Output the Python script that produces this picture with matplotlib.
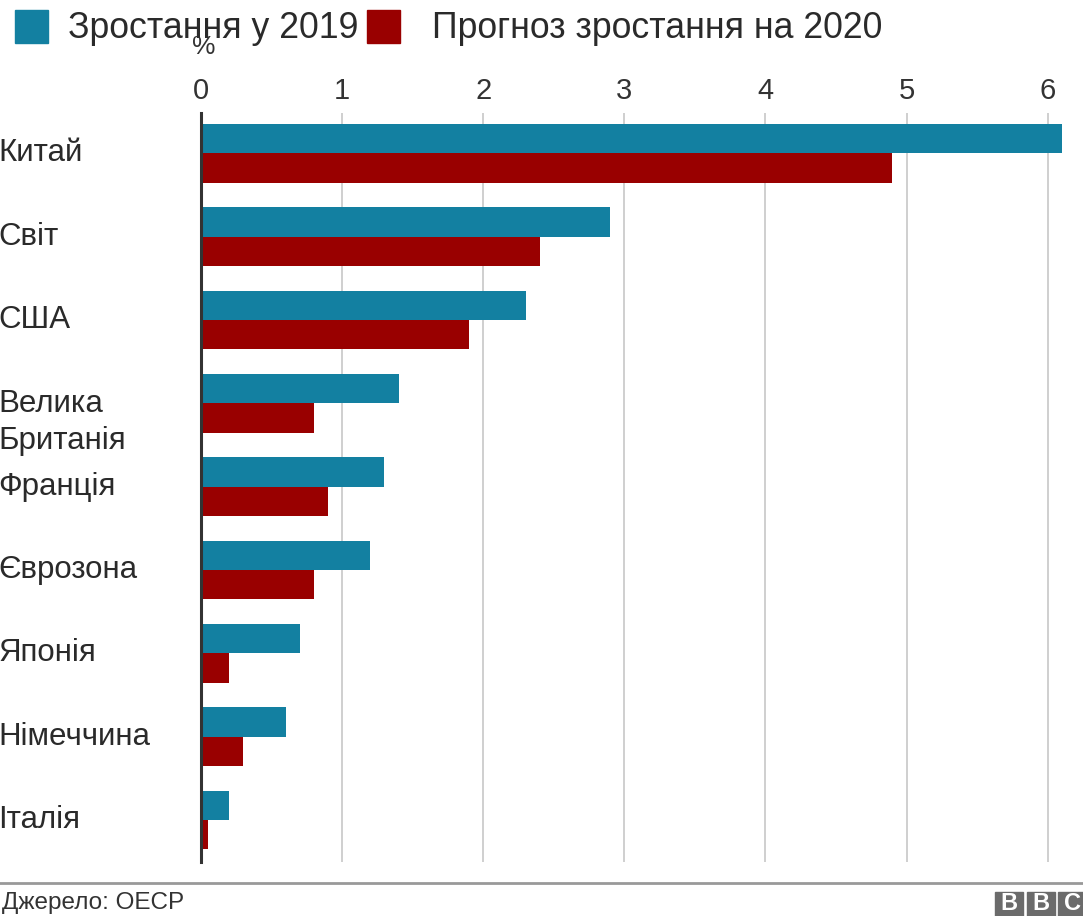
import matplotlib
matplotlib.use("Agg")
import matplotlib.pyplot as plt
import matplotlib.transforms as mtransforms
from matplotlib.patches import Rectangle

plt.rcParams['font.family'] = ['Liberation Sans', 'DejaVu Sans']

# Дані: зростання ВВП, %
countries = ["Китай", "Світ", "США", "Велика\nБританія", "Франція",
             "Єврозона", "Японія", "Німеччина", "Італія"]
growth_2019 = [6.1, 2.9, 2.3, 1.4, 1.3, 1.2, 0.7, 0.6, 0.2]
forecast_2020 = [4.9, 2.4, 1.9, 0.8, 0.9, 0.8, 0.2, 0.3, 0.05]
xticks = [0, 1, 2, 3, 4, 5, 6]

BLUE = "#1380A1"
RED = "#990000"
TEXT = "#2a2a2a"

W, H = 1083, 916
fig = plt.figure(figsize=(W / 100, H / 100), dpi=100)

ax = fig.add_axes([201 / W, 1 - 861.7 / H, (W - 201) / W, (861.7 - 113.3) / H])

y = list(range(len(countries)))
bh = 0.352
ax.barh([v - bh / 2 for v in y], growth_2019, height=bh, color=BLUE, zorder=3)
ax.barh([v + bh / 2 for v in y], forecast_2020, height=bh, color=RED, zorder=3)

ax.set_xlim(0, (W - 201) / 141.1)
ax.set_ylim(8.5, -0.48)

ax.set_xticks(xticks)
ax.xaxis.tick_top()
ax.tick_params(axis="x", length=0, pad=6, labelsize=21, labelcolor="#333333")
ax.set_yticks([])
ax.grid(axis="x", color="#cccccc", linewidth=1.3, zorder=0)

for s in ["top", "right", "bottom"]:
    ax.spines[s].set_visible(False)
ax.spines["left"].set_color("#333333")
ax.spines["left"].set_linewidth(2.2)
ax.spines["left"].set_zorder(4)

# підписи країн зліва
trans = mtransforms.blended_transform_factory(fig.transFigure, ax.transData)
for i, name in enumerate(countries):
    yy = i + (0.23 if "\n" in name else 0)
    ax.text(-2 / W, yy, name, transform=trans, ha="left", va="center",
            fontsize=22.5, color=TEXT, linespacing=1.3, clip_on=False)

# одиниця
fig.text(204 / W, 1 - 47 / H, "%", ha="center", va="center", fontsize=19, color="#333333")

# легенда
fig.patches.append(Rectangle((15 / W, 1 - 43 / H), 33 / W, 33 / H,
                             transform=fig.transFigure, color=BLUE))
fig.text(68 / W, 1 - 28 / H, "Зростання у 2019", ha="left", va="center",
         fontsize=25.7, color=TEXT)
fig.patches.append(Rectangle((367 / W, 1 - 43 / H), 33 / W, 33 / H,
                             transform=fig.transFigure, color=RED))
fig.text(432 / W, 1 - 28 / H, "Прогноз зростання на 2020", ha="left", va="center",
         fontsize=25.7, color=TEXT)

# нижня лінія, джерело, логотип
fig.add_artist(plt.Line2D([0, 1], [1 - 883 / H, 1 - 883 / H], transform=fig.transFigure,
                          color="#999999", linewidth=2))
fig.text(2 / W, 1 - 903 / H, "Джерело: OECP", ha="left", va="center",
         fontsize=17.5, color="#333333")
for k, letter in enumerate("BBC"):
    x0 = 995 + k * 31.7
    fig.patches.append(Rectangle((x0 / W, 1 - 920 / H), 28.3 / W, 28 / H,
                                 transform=fig.transFigure, color="#6b6b6b"))
    fig.text((x0 + 14.2) / W, 1 - 904 / H, letter, ha="center", va="center",
             fontsize=17, color="white", fontweight="bold")

fig.savefig("out.png", dpi=100)
